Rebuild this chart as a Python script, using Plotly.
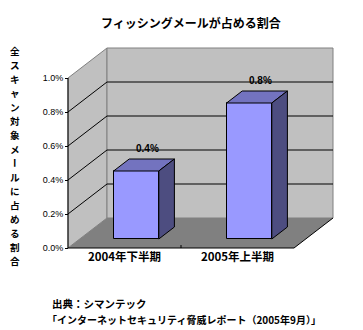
import plotly.graph_objects as go

# ---------------- data ----------------
categories = ["2004年下半期", "2005年上半期"]
values = [0.4, 0.8]  # percent
tick_vals = [0.0, 0.2, 0.4, 0.6, 0.8, 1.0]
tick_text = ["0.0%", "0.2%", "0.4%", "0.6%", "0.8%", "1.0%"]
title_text = "フィッシングメールが占める割合"
y_title = "全スキャン対象メールに占める割合"
source_lines = ["出典：シマンテック", "「インターネットセキュリティ脅威レポート（2005年9月）」"]

# ---------------- geometry ----------------
W, H = 363, 330
L, R, T, B = 66, 28, 46, 78
SX = 113.0   # px per category
SY = 170.0   # px per 1.0 %
AX_X = 68    # px of front value axis
AX_Y = 248   # px of front category axis
DDX = 39 / SX   # depth vector (data units)
DDY = 30 / SY
D0, D1 = 0.3, 0.7
BW = 0.4

pw = W - L - R
ph = H - T - B
x0 = -0.5 - (AX_X - L) / SX
x1 = x0 + pw / SX
y0 = -((H - B) - AX_Y) / SY
y1 = y0 + ph / SY


def paper_x(px):
    return (px - L) / pw


def paper_y(py):
    return (H - B - py) / ph


n = len(categories)
xs = list(range(n))
vmax = tick_vals[-1]
xl, xr = -0.5, n - 0.5

CJK = "Noto Sans CJK JP"

fig = go.Figure()

# ---------------- walls / floor ----------------
shapes = []
wall_line = dict(color="#808080", width=1)
shapes.append(dict(type="path", xref="x", yref="y", layer="below",
                   path=f"M {xl},0 L {xl},{vmax} L {xl+DDX},{vmax+DDY} L {xl+DDX},{DDY} Z",
                   fillcolor="#c0c0c0", line=wall_line))
shapes.append(dict(type="rect", xref="x", yref="y", layer="below",
                   x0=xl + DDX, x1=xr + DDX, y0=DDY, y1=vmax + DDY,
                   fillcolor="#c0c0c0", line=wall_line))
shapes.append(dict(type="path", xref="x", yref="y", layer="below",
                   path=f"M {xl},0 L {xr},0 L {xr+DDX},{DDY} L {xl+DDX},{DDY} Z",
                   fillcolor="#808080", line=dict(width=0)))
for v in tick_vals[1:-1]:
    shapes.append(dict(type="line", xref="x", yref="y", layer="below",
                       x0=xl + DDX, x1=xr + DDX, y0=v + DDY, y1=v + DDY,
                       line=dict(color="black", width=1)))
    shapes.append(dict(type="line", xref="x", yref="y", layer="below",
                       x0=xl, x1=xl + DDX, y0=v, y1=v + DDY,
                       line=dict(color="black", width=1)))
# front axis lines
shapes.append(dict(type="line", xref="x", yref="y", layer="below",
                   x0=xl, x1=xl, y0=0, y1=vmax, line=dict(color="black", width=1)))
shapes.append(dict(type="line", xref="x", yref="y", layer="below",
                   x0=xl, x1=xr, y0=0, y1=0, line=dict(color="black", width=1)))
shapes.append(dict(type="line", xref="x", yref="y", layer="below",
                   x0=xr, x1=xr + DDX, y0=0, y1=DDY, line=dict(color="black", width=1)))
for k in range(1, n):
    shapes.append(dict(type="line", xref="x", yref="y", layer="below",
                       x0=k - 0.5, x1=k - 0.5, y0=0, y1=3 / SY,
                       line=dict(color="black", width=1)))

# ---------------- bars ----------------
fig.add_trace(go.Bar(
    x=[i + D0 * DDX for i in xs], y=values, base=D0 * DDY, width=BW,
    marker=dict(color="#9999ff", line=dict(color="black", width=1)),
    hoverinfo="skip", showlegend=False))


def P(x, y, d):
    return (x + d * DDX, y + d * DDY)


tx, ty, sx, sy = [], [], [], []
for i, v in zip(xs, values):
    top = [P(i - BW / 2, v, D0), P(i + BW / 2, v, D0), P(i + BW / 2, v, D1),
           P(i - BW / 2, v, D1), P(i - BW / 2, v, D0)]
    side = [P(i + BW / 2, 0, D0), P(i + BW / 2, v, D0), P(i + BW / 2, v, D1),
            P(i + BW / 2, 0, D1), P(i + BW / 2, 0, D0)]
    tx += [p[0] for p in top] + [None]
    ty += [p[1] for p in top] + [None]
    sx += [p[0] for p in side] + [None]
    sy += [p[1] for p in side] + [None]

fig.add_trace(go.Scatter(x=tx, y=ty, mode="lines", fill="toself",
                         fillcolor="#7373bf", line=dict(color="black", width=1),
                         hoverinfo="skip", showlegend=False))
fig.add_trace(go.Scatter(x=sx, y=sy, mode="lines", fill="toself",
                         fillcolor="#4d4d80", line=dict(color="black", width=1),
                         hoverinfo="skip", showlegend=False))

# ---------------- annotations ----------------
ann = []
for i, v in zip(xs, values):
    ann.append(dict(x=i + 0.5 * DDX, y=v + D1 * DDY, xref="x", yref="y",
                    text=f"{v:.1f}%", showarrow=False, xanchor="center", yanchor="middle",
                    yshift=11, xshift=3,
                    font=dict(family="Liberation Sans", size=10, color="black", weight="bold")))

for k, ch in enumerate(y_title):
    ann.append(dict(x=paper_x(15), y=paper_y(51 + 14 * k), xref="paper", yref="paper",
                    text=ch, showarrow=False, xanchor="center", yanchor="middle",
                    textangle=90 if ch == "ー" else 0, borderpad=0,
                    font=dict(family=CJK, size=9.6, color="black", weight="bold")))

ann.append(dict(x=paper_x(50), y=paper_y(303), xref="paper", yref="paper",
                text=source_lines[0], showarrow=False, xanchor="left", yanchor="middle",
                font=dict(family=CJK, size=10.5, color="black", weight="bold")))
ann.append(dict(x=paper_x(45), y=paper_y(319), xref="paper", yref="paper",
                text=source_lines[1], showarrow=False, xanchor="left", yanchor="middle",
                font=dict(family=CJK, size=10, color="black", weight="bold")))

fig.update_layout(
    width=W, height=H,
    margin=dict(l=L, r=R, t=T, b=B, pad=0),
    paper_bgcolor="white", plot_bgcolor="white",
    title=dict(text=title_text, x=191 / W, y=1 - 24 / H, xref="container", yref="container",
               xanchor="center", yanchor="middle",
               font=dict(family=CJK, size=12, color="black", weight="bold")),
    xaxis=dict(range=[x0, x1], anchor="free", position=(H - B - AX_Y) / ph,
               tickvals=xs, ticktext=categories, ticks="", showgrid=False, zeroline=False,
               showline=False, fixedrange=True,
               tickfont=dict(family=CJK, size=11.5, color="black", weight="bold")),
    yaxis=dict(range=[y0, y1], anchor="free", position=(AX_X - L) / pw,
               tickvals=tick_vals, ticktext=tick_text, ticks="outside", ticklen=3,
               tickcolor="black", tickwidth=1, showgrid=False, zeroline=False,
               showline=False, fixedrange=True,
               tickfont=dict(family="Liberation Sans", size=9, color="black")),
    shapes=shapes, annotations=ann, showlegend=False, bargap=0,
)

fig.write_html("out.html")
